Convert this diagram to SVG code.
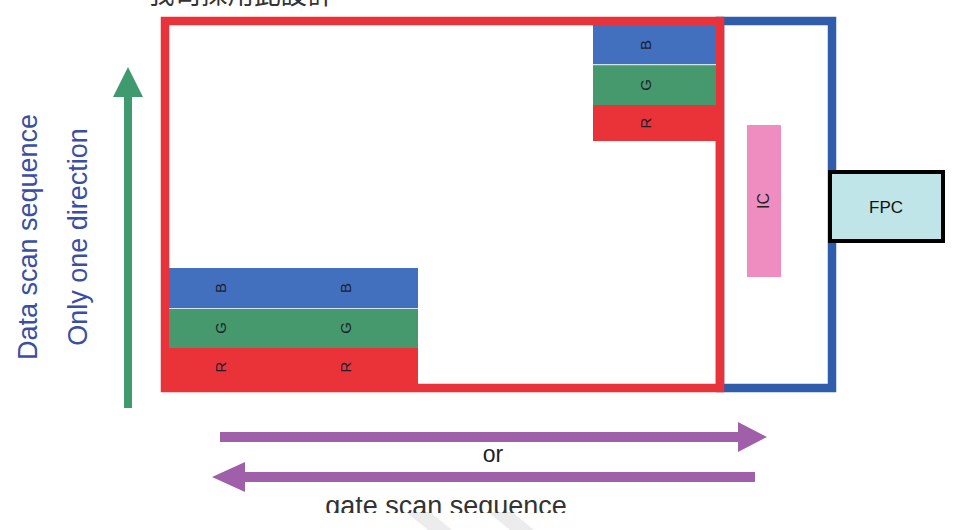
<svg xmlns="http://www.w3.org/2000/svg" width="953" height="530" viewBox="0 0 953 530">
  <defs>
    <style>
      .lbl { font-family: "Liberation Sans", Arial, sans-serif; }
      .side { font-family: "Liberation Sans", Arial, sans-serif; font-size: 27px; fill: #3a4fa3; }
      .sub { font-family: "Liberation Sans", Arial, sans-serif; font-size: 15px; fill: #1e1e2e; text-anchor: middle; }
      .frameR { fill: none; stroke: #e9333a; stroke-width: 8.5; }
      .frameB { fill: none; stroke: #2f5dab; stroke-width: 8.5; }
      .cB { fill: #4270bf; }
      .cG { fill: #45996d; }
      .cR { fill: #ea3339; }
      .purple { fill: #a05fa9; }
    </style>
    <clipPath id="page-cut">
      <rect x="0" y="0" width="953" height="513"/>
    </clipPath>
  </defs>

  <rect width="953" height="530" fill="#ffffff"/>

  <!-- faint background chevrons -->
  <g id="backdrop" fill="#ececec">
    <polygon points="406,512 430,512 452,530 428,530"/>
    <polygon points="488,512 512,512 534,530 510,530"/>
  </g>

  <!-- heading, partly off the top edge -->
  <text x="148" y="4" font-family="'Noto Sans CJK TC', 'Noto Sans CJK SC', sans-serif" font-size="26.5" fill="#333333">我司採用此設計</text>

  <!-- panel outlines -->
  <g id="driver-frame">
    <rect class="frameB" x="720" y="21" width="112" height="367"/>
  </g>
  <g id="panel-frame">
    <rect class="frameR" x="165" y="21" width="555" height="367"/>
  </g>

  <!-- sub-pixel stack, top right -->
  <g id="pixel-top">
    <rect class="cB" x="593" y="25" width="123" height="39.5"/>
    <rect class="cG" x="593" y="65" width="123" height="40"/>
    <rect class="cR" x="593" y="105" width="127" height="36"/>
    <line x1="593" y1="64.6" x2="716" y2="64.6" stroke="#cfe3f2" stroke-width="1.2"/>
    <text class="sub" transform="translate(651,45) rotate(-90)">B</text>
    <text class="sub" transform="translate(651,85) rotate(-90)">G</text>
    <text class="sub" transform="translate(651,123) rotate(-90)">R</text>
  </g>

  <!-- sub-pixel stacks, bottom left -->
  <g id="pixel-bottom">
    <rect class="cB" x="169" y="268" width="249" height="40"/>
    <rect class="cG" x="169" y="309" width="249" height="39"/>
    <rect class="cR" x="161" y="348" width="257" height="44"/>
    <line x1="169" y1="308.5" x2="418" y2="308.5" stroke="#cfe3f2" stroke-width="1.2"/>
    <text class="sub" transform="translate(226,288) rotate(-90)">B</text>
    <text class="sub" transform="translate(226,328) rotate(-90)">G</text>
    <text class="sub" transform="translate(226,367) rotate(-90)">R</text>
    <text class="sub" transform="translate(351,288) rotate(-90)">B</text>
    <text class="sub" transform="translate(351,328) rotate(-90)">G</text>
    <text class="sub" transform="translate(351,367) rotate(-90)">R</text>
  </g>

  <!-- driver IC -->
  <g id="ic">
    <rect x="747" y="125" width="34" height="152" fill="#ef8dc0"/>
    <text class="lbl" font-size="16" fill="#222222" text-anchor="middle" transform="translate(769,201) rotate(-90)">IC</text>
  </g>

  <!-- flex connector -->
  <g id="fpc">
    <rect x="830" y="172" width="113" height="69" fill="#bfe5e9" stroke="#000000" stroke-width="4"/>
    <text class="lbl" x="886" y="213" font-size="17" fill="#111111" text-anchor="middle">FPC</text>
  </g>

  <!-- scan direction arrows -->
  <g id="connectors">
    <polygon fill="#3f9a70" points="124,408 132,408 132,97 143,97 128,67 113,97 124,97"/>
    <polygon class="purple" points="220,432 738,432 738,422 767,437 738,452 738,442 220,442"/>
    <polygon class="purple" points="755,472 245,472 245,462 212,477 245,492 245,482 755,482"/>
  </g>

  <!-- axis captions -->
  <g id="captions">
    <text class="side" text-anchor="middle" transform="translate(37,237) rotate(-90)">Data scan sequence</text>
    <text class="side" text-anchor="middle" transform="translate(87,237) rotate(-90)">Only one direction</text>
    <text class="lbl" x="493" y="462" font-size="23" fill="#222222" text-anchor="middle">or</text>
    <text class="lbl" x="446" y="515" font-size="27" fill="#333333" text-anchor="middle" clip-path="url(#page-cut)">gate scan sequence</text>
  </g>
</svg>
